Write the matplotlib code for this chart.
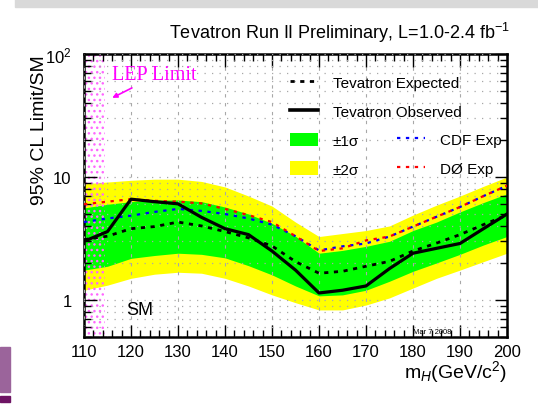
import matplotlib
matplotlib.use('Agg')
import matplotlib.pyplot as plt
from matplotlib.patches import Rectangle, Patch
from matplotlib.lines import Line2D
from matplotlib.ticker import FixedLocator, FixedFormatter, MultipleLocator

plt.rcParams['font.family'] = ['Liberation Sans', 'DejaVu Sans']
plt.rcParams['mathtext.fontset'] = 'custom'
plt.rcParams['mathtext.rm'] = 'Liberation Sans'
plt.rcParams['mathtext.it'] = 'Liberation Sans:italic'
plt.rcParams['mathtext.bf'] = 'Liberation Sans:bold'
plt.rcParams['hatch.linewidth'] = 1.0

# ---------------- data ----------------
mass = [110, 115, 120, 125, 130, 135, 140, 145, 150, 155,
        160, 165, 170, 175, 180, 185, 190, 195, 200]
observed = [3.0, 3.6, 6.6, 6.3, 6.05, 4.7, 3.8, 3.4, 2.5, 1.75,
            1.14, 1.2, 1.3, 1.8, 2.4, 2.63, 2.88, 3.8, 5.0]
expected = [3.1, 3.3, 3.8, 3.95, 4.3, 4.0, 3.6, 3.2, 2.75, 2.05,
            1.65, 1.71, 1.88, 2.06, 2.5, 2.9, 3.4, 4.1, 4.9]
one_sigma_hi = [5.6, 6.0, 6.3, 6.5, 6.5, 6.3, 5.7, 5.0, 4.2, 3.3,
                2.4, 2.53, 2.73, 3.0, 3.67, 4.3, 5.2, 6.2, 7.3]
one_sigma_lo = [1.75, 1.88, 2.18, 2.3, 2.4, 2.35, 2.2, 1.9, 1.6, 1.3,
                1.08, 1.1, 1.2, 1.42, 1.71, 2.0, 2.35, 2.8, 3.28]
two_sigma_hi = [8.8, 9.1, 9.4, 9.6, 9.6, 9.2, 8.3, 7.0, 5.8, 4.3,
                3.28, 3.47, 3.67, 4.0, 4.9, 5.9, 7.0, 8.4, 10.0]
two_sigma_lo = [1.2, 1.32, 1.5, 1.62, 1.68, 1.65, 1.5, 1.3, 1.1, 0.95,
                0.83, 0.83, 0.91, 1.04, 1.25, 1.5, 1.75, 2.05, 2.4]
cdf_exp = [4.3, 4.6, 4.85, 5.2, 5.5, 5.3, 5.0, 4.6, 4.1, 3.3,
           2.53, 2.73, 2.88, 3.28, 3.95, 4.75, 5.7, 7.0, 8.5]
d0_exp = [6.0, 6.3, 6.6, 6.4, 6.3, 6.1, 5.5, 4.9, 4.3, 3.3,
          2.5, 2.63, 3.05, 3.28, 3.95, 4.75, 5.7, 7.0, 8.5]
lep_limit = [110, 114.4]
x_ticks = [110, 120, 130, 140, 150, 160, 170, 180, 190, 200]
y_ticks = [1, 10, 100]
y_tick_labels = ['1', '10', '$10^{2}$']

# ---------------- figure ----------------
W, H = 538, 406
fig = plt.figure(figsize=(W / 100, H / 100), dpi=100)
# decorations of the page
fig.patches.append(Rectangle((15 / W, 1 - 8 / H), 1 - 15 / W, 8 / H,
                             transform=fig.transFigure, color='#d9d9d9', zorder=0))
fig.patches.append(Rectangle((0, 1 - 393 / H), 10 / W, 45 / H,
                             transform=fig.transFigure, color='#9b649b', zorder=0))
fig.patches.append(Rectangle((0, 1 - 403 / H), 10 / W, 6 / H,
                             transform=fig.transFigure, color='#6e1464', zorder=0))

ax = fig.add_axes([84 / W, 1 - 338 / H, (507 - 84) / W, (338 - 55) / H])
ax.set_yscale('log')
ax.set_xlim(110, 200)
ax.set_ylim(0.5, 100)

ax.fill_between(mass, two_sigma_lo, two_sigma_hi, color='#ffff00', lw=0, zorder=1)
ax.fill_between(mass, one_sigma_lo, one_sigma_hi, color='#00ff00', lw=0, zorder=1.1)

ax.fill_between(lep_limit, [0.5, 0.5], [100, 100], facecolor='none',
                edgecolor='#ff66ff', hatch='...', lw=0, zorder=2)

ax.plot(mass, cdf_exp, color='#0000ff', ls=(0, (1.5, 2.5)), lw=1.6, zorder=3)
ax.plot(mass, d0_exp, color='#ff0000', ls=(0, (1.5, 2.5)), lw=1.6, zorder=3)
ax.plot(mass, expected, color='black', ls=(0, (1.5, 2.0)), lw=2.0, zorder=3.2)
ax.plot(mass, observed, color='black', ls='-', lw=2.3, zorder=3.3)

# grid
ax.set_axisbelow(False)
ax.xaxis.set_major_locator(FixedLocator(x_ticks))
ax.xaxis.set_minor_locator(MultipleLocator(2))
ax.yaxis.set_major_locator(FixedLocator(y_ticks))
ax.yaxis.set_major_formatter(FixedFormatter(y_tick_labels))
minor_y = [v * d for d in (0.1, 1, 10) for v in range(2, 10) if 0.5 <= v * d <= 100]
ax.yaxis.set_minor_locator(FixedLocator(minor_y))
ax.yaxis.set_minor_formatter(FixedFormatter([''] * len(minor_y)))
ax.grid(True, axis='x', which='major', color='#a8a8a8', ls=(0, (3, 5)), lw=0.8)
ax.grid(True, axis='y', which='both', color='#a8a8a8', ls=(0, (1, 5)), lw=0.9)

ax.tick_params(axis='both', which='both', direction='in', top=True, right=True,
               width=1.0, colors='black')
ax.tick_params(axis='both', which='major', length=9, labelsize=12)
ax.tick_params(axis='both', which='minor', length=5)
ax.tick_params(axis='x', which='major', pad=5)
ax.tick_params(axis='y', which='major', pad=9)
for s in ax.spines.values():
    s.set_linewidth(1.8)

ax.set_ylabel('95% CL Limit/SM', fontsize=14, loc='top')
ax.yaxis.set_label_coords(-0.085, 1.0)
ax.set_xlabel('m$_{H}$(GeV/c$^{2}$)', fontsize=14, loc='right')
ax.xaxis.set_label_coords(1.0, -0.075)

fig.text(340 / W, 1 - 33 / H, 'Tevatron Run II Preliminary, L=1.0-2.4 fb$^{-1}$',
         ha='center', va='center', fontsize=13)

ax.text(116.0, 68, 'LEP Limit', color='#ff00ff', fontsize=14.5,
        family='Liberation Serif', ha='left', va='center')
ax.annotate('', xy=(116.0, 44), xytext=(120.2, 53), textcoords='data',
            arrowprops=dict(arrowstyle='-|>', color='#ff00ff', lw=1.2,
                            shrinkA=0, shrinkB=0, mutation_scale=7))
ax.text(119.0, 0.83, 'SM', fontsize=13, ha='left', va='center')
ax.text(188.2, 0.555, 'Mar 7 2008', fontsize=5.5, ha='right', va='center')

# legends
fs = 11
h1 = [Line2D([], [], color='black', ls=(0, (1.5, 2.0)), lw=2.0),
      Line2D([], [], color='black', lw=2.6),
      Patch(facecolor='#00ff00', edgecolor='none'),
      Patch(facecolor='#ffff00', edgecolor='none')]
l1 = ['Tevatron Expected', 'Tevatron Observed', '\u00b11\u03c3', '\u00b12\u03c3']
leg1 = ax.legend(h1, l1, loc='upper left', bbox_to_anchor=(290 / W, 1 - 76 / H),
                 bbox_transform=fig.transFigure, frameon=False, fontsize=fs,
                 borderpad=0, borderaxespad=0, handlelength=1.83,
                 handletextpad=0.98, handleheight=1.0, labelspacing=0.9)
ax.add_artist(leg1)
h2 = [Line2D([], [], color='#0000ff', ls=(0, (1.5, 2.5)), lw=1.6),
      Line2D([], [], color='#ff0000', ls=(0, (1.5, 2.5)), lw=1.6)]
l2 = ['CDF Exp', 'D\u00d8 Exp']
ax.legend(h2, l2, loc='upper left', bbox_to_anchor=(397 / W, 1 - 133 / H),
          bbox_transform=fig.transFigure, frameon=False, fontsize=fs,
          borderpad=0, borderaxespad=0, handlelength=1.83,
          handletextpad=0.98, handleheight=1.0, labelspacing=0.9)

fig.savefig('out.png', dpi=100)
